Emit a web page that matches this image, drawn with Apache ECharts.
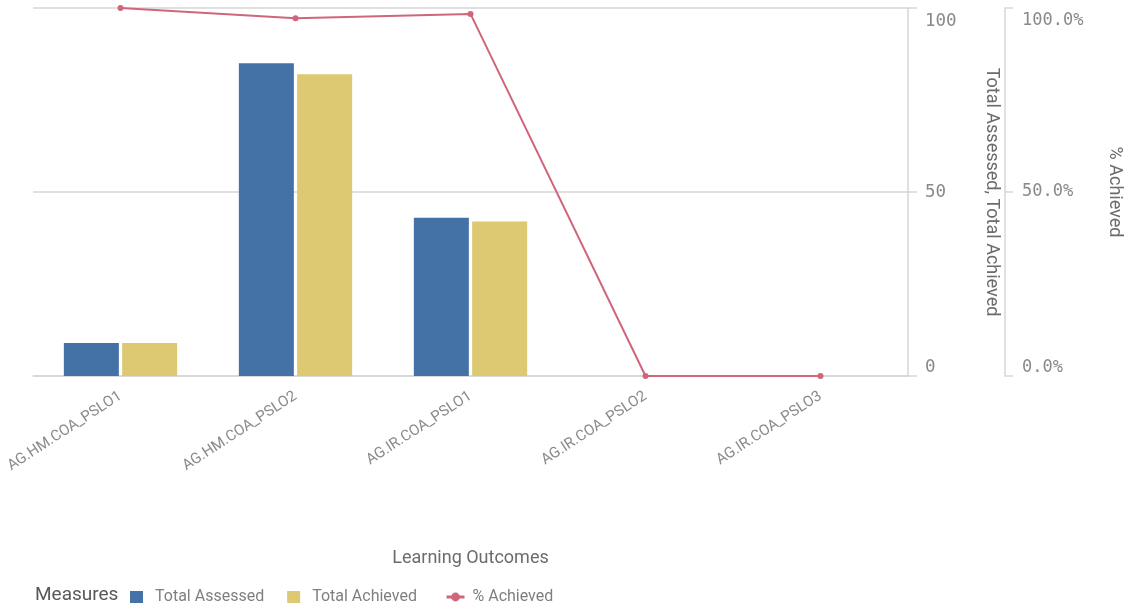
<!DOCTYPE html>
<html>
<head>
<meta charset="utf-8">
<script src="https://cdn.jsdelivr.net/npm/echarts@6/dist/echarts.min.js"></script>
<style>
  html, body { margin: 0; padding: 0; background: #fff; }
  #chart { width: 1130px; height: 607px; }
</style>
</head>
<body>
<div id="chart"></div>
<script>
const categories = ['AG.HM.COA_PSLO1', 'AG.HM.COA_PSLO2', 'AG.IR.COA_PSLO1', 'AG.IR.COA_PSLO2', 'AG.IR.COA_PSLO3'];
const totalAssessed = [9, 85, 43, 0, 0];
const totalAchieved = [9, 82, 42, 0, 0];
const pctAchieved = [1.0, 0.972, 0.984, 0, 0];
const countTicks = [0, 50, 100];
const pctTicks = [0, 0.5, 1];

const BLUE = '#4472a6', YELLOW = '#dcc972', RED = '#cf6679';
const GRID = '#d6d6d6';
const sans = 'Roboto, "Noto Sans", sans-serif';
const mono = '"DejaVu Sans Mono", monospace';

const chart = echarts.init(document.getElementById('chart'), null, { renderer: 'canvas' });
chart.setOption({
  animation: false,
  backgroundColor: '#fff',
  grid: { left: 33, right: 222, top: 8, bottom: 231, containLabel: false, outerBoundsMode: 'none' },
  graphic: [{
    type: 'text', left: 35, top: 586,
    style: { text: 'Measures', font: '19px ' + sans, fill: '#595959' }
  }],
  legend: [{
    left: 130, top: 589, padding: 0,
    data: ['Total Assessed', 'Total Achieved'],
    icon: 'rect', itemWidth: 13, itemHeight: 12, itemGap: 23,
    textStyle: { fontFamily: sans, fontSize: 16, color: '#7f7f7f', padding: [0, 0, 0, 7] }
  }, {
    left: 445, top: 589, padding: 0,
    data: ['% Achieved'],
    itemWidth: 18, itemHeight: 11,
    lineStyle: { width: 3 },
    textStyle: { fontFamily: sans, fontSize: 16, color: '#7f7f7f', padding: [0, 0, 0, 3] }
  }],
  xAxis: {
    type: 'category',
    data: categories,
    name: 'Learning Outcomes',
    nameLocation: 'middle',
    nameGap: 173,
    nameTextStyle: { fontFamily: sans, fontSize: 18, color: '#6b6b6b' },
    axisLine: { show: true, lineStyle: { color: GRID, width: 1.5 } },
    axisTick: { show: false },
    axisLabel: { rotate: 33, margin: 19, fontFamily: sans, fontSize: 15, color: '#8a8a8a', interval: 0 }
  },
  yAxis: [{
    type: 'value', position: 'right', min: countTicks[0], max: countTicks[2], interval: 50,
    name: 'Total Assessed, Total Achieved',
    nameLocation: 'middle', nameRotate: -90, nameGap: 74,
    nameTextStyle: { fontFamily: sans, fontSize: 18, color: '#6b6b6b' },
    axisLine: { show: true, lineStyle: { color: GRID, width: 1.5 } },
    axisTick: { show: true, length: 9, lineStyle: { color: GRID, width: 1.5 } },
    splitLine: { show: true, lineStyle: { color: GRID, width: 1.5 } },
    axisLabel: {
      margin: 17, fontFamily: mono, fontSize: 17.5, color: '#8a8a8a', padding: [4, 0, 0, 0],
      verticalAlignMinLabel: 'bottom', verticalAlignMaxLabel: 'top'
    }
  }, {
    type: 'value', position: 'right', offset: 97, min: pctTicks[0], max: pctTicks[2], interval: 0.5,
    name: '% Achieved',
    nameLocation: 'middle', nameRotate: -90, nameGap: 100,
    nameTextStyle: { fontFamily: sans, fontSize: 18, color: '#6b6b6b' },
    axisLine: { show: true, lineStyle: { color: GRID, width: 1.5 } },
    axisTick: { show: true, length: 8, lineStyle: { color: GRID, width: 1.5 } },
    splitLine: { show: false },
    axisLabel: {
      margin: 17, fontFamily: mono, fontSize: 17, color: '#8a8a8a', padding: [4, 0, 0, 0],
      formatter: v => (v * 100).toFixed(1) + '%',
      verticalAlignMinLabel: 'bottom', verticalAlignMaxLabel: 'top'
    }
  }],
  series: [{
    name: 'Total Assessed', type: 'bar', yAxisIndex: 0,
    data: totalAssessed, barWidth: 55, barGap: '6%',
    itemStyle: { color: BLUE }
  }, {
    name: 'Total Achieved', type: 'bar', yAxisIndex: 0,
    data: totalAchieved, barWidth: 55,
    itemStyle: { color: YELLOW }
  }, {
    name: '% Achieved', type: 'line', yAxisIndex: 1,
    data: pctAchieved, z: 5,
    symbol: 'circle', symbolSize: 6,
    lineStyle: { color: RED, width: 2 },
    itemStyle: { color: RED }
  }]
});
</script>
</body>
</html>
